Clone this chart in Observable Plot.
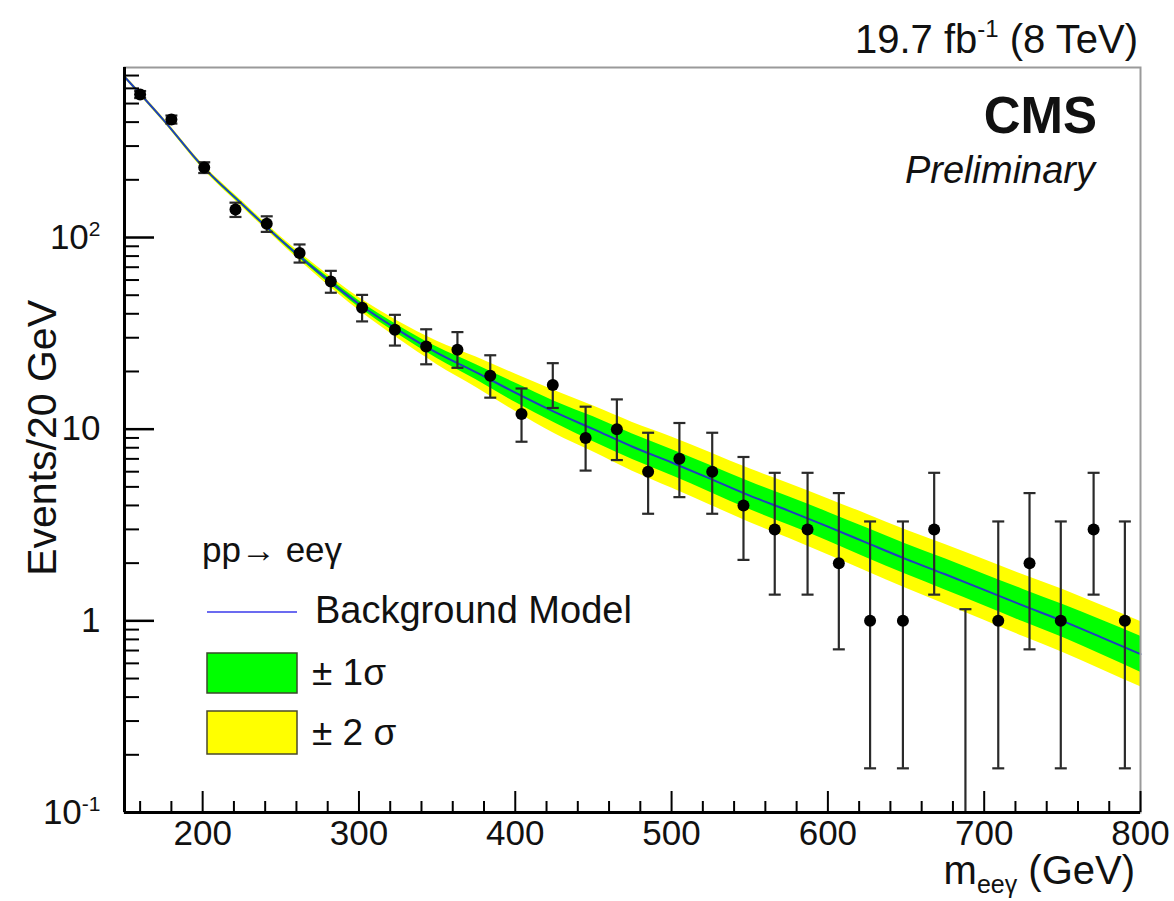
<!DOCTYPE html>
<html><head><meta charset="utf-8">
<script src="https://cdn.jsdelivr.net/npm/d3@7"></script>
<script src="https://cdn.jsdelivr.net/npm/@observablehq/plot@0.6"></script>
<style>
body{margin:0;background:#fff;}
#chart{position:relative;width:1174px;height:901px;}
svg{font-family:"Liberation Sans",Arial,Helvetica,sans-serif;}
</style></head><body><div id="chart"></div>
<script>
// ---- data ----
const binCenter = [160,180,201,221,241,262,282,302,323,343,363,384,404,424,445,465,485,505,526,546,566,587,607,627,648,668,688,709,729,749,770,790];
const counts    = [557,413,232,140,118,83,59,43,33,27,26,19,12,17,9,10,6,7,6,4,3,3,2,1,1,3,0,1,2,1,3,1];
const errLow    = [534,393,217,128,107,74,51.5,36.5,27.3,21.8,20.9,14.6,8.6,12.9,6.08,6.9,3.62,4.42,3.62,2.08,1.37,1.37,0.71,0.17,0.17,1.37,0.05,0.17,0.71,0.17,1.37,0.17];
const errHigh   = [581,433,247,152,129,92,67,50.2,39.5,33.2,32.1,24.3,16.3,22.1,13.1,14.3,9.58,10.77,9.58,7.16,5.92,5.92,4.64,3.30,3.30,5.92,1.15,3.30,4.64,3.30,5.92,3.30];

const bandMass   = [150,175,200,225,250,275,300,325,350,375,400,425,450,475,500,525,550,575,600,625,650,675,700,725,750,775,800];
const bkgModel   = [690,410,235,150,97,65,45,33,25,19.8,15.5,12.3,10.0,8.1,6.7,5.5,4.5,3.75,3.1,2.55,2.1,1.75,1.45,1.2,1.0,0.82,0.67];
const sigma1Low  = [683,405,231.5,147.3,95.1,63.1,43.3,31.3,23.4,18.1,13.8,10.8,8.6,6.95,5.73,4.68,3.81,3.16,2.61,2.13,1.75,1.45,1.20,0.988,0.820,0.667,0.540];
const sigma1High = [697,415,238.5,152.7,98.9,67.0,46.8,34.8,26.8,21.7,17.4,14.0,11.6,9.44,7.84,6.46,5.31,4.44,3.69,3.05,2.52,2.11,1.75,1.458,1.22,1.009,0.831];
const sigma2Low  = [676,400,228,144.9,93.3,61.3,41.7,29.7,21.7,16.5,12.4,9.5,7.6,6.04,4.93,4.01,3.26,2.70,2.21,1.81,1.48,1.22,1.007,0.828,0.685,0.558,0.453];
const sigma2High = [704,420,242,155.3,100.9,68.9,48.6,36.6,28.8,23.8,19.4,15.9,13.2,10.85,9.11,7.54,6.21,5.21,4.34,3.60,2.98,2.50,2.09,1.74,1.46,1.205,0.992];

const xMajorTicks = [200,300,400,500,600,700,800];
const xMinorTicks = [160,180,220,240,260,280,320,340,360,380,420,440,460,480,520,540,560,580,620,640,660,680,720,740,760,780];
const yMajorTicks = [0.1,1,10,100];
const yTickLabels = ["10^-1","1","10","10^2"];
const yMinorTicks = [0.2,0.3,0.4,0.5,0.6,0.7,0.8,0.9,2,3,4,5,6,7,8,9,20,30,40,50,60,70,80,90,200,300,400,500,600,700];

// ---- tables ----
const data = binCenter.map((m,i)=>({m, n:counts[i], lo:errLow[i], hi:errHigh[i]}));
const band = bandMass.map((m,i)=>({m, bkg:bkgModel[i], lo1:sigma1Low[i], hi1:sigma1High[i], lo2:sigma2Low[i], hi2:sigma2High[i]}));

const W=1174, H=901, mL=124, mR=34, mT=67, mB=89;
const innerW = W-mL-mR, innerH = H-mT-mB;
const capSym = {draw(ctx, size){ const w=Math.sqrt(size/Math.PI); ctx.moveTo(-w,0); ctx.lineTo(w,0); }};
const font = "Liberation Sans, Arial, Helvetica, sans-serif";

const plot = Plot.plot({
  width: W, height: H,
  marginLeft: mL, marginRight: mR, marginTop: mT, marginBottom: mB,
  style: {fontFamily: font, background: "white", overflow: "visible", color: "#111"},
  x: {domain: [150, 800]},
  y: {type: "log", domain: [0.1, 771]},
  marks: [
    Plot.areaY(band, {x:"m", y1:"lo2", y2:"hi2", fill:"#ffff00", curve:"monotone-x"}),
    Plot.areaY(band, {x:"m", y1:"lo1", y2:"hi1", fill:"#00ff00", curve:"monotone-x"}),
    Plot.line(band, {x:"m", y:"bkg", stroke:"#1f3fbf", strokeWidth:2, curve:"monotone-x"}),
    Plot.ruleX(data, {x:"m", y1:"lo", y2:"hi", stroke:"#2a2a2a", strokeWidth:2.2, clip:true}),
    Plot.dot(data, {x:"m", y:"hi", symbol:capSym, r:6, stroke:"#2a2a2a", strokeWidth:2.2}),
    Plot.dot(data.filter(d=>d.lo>0.1), {x:"m", y:"lo", symbol:capSym, r:6, stroke:"#2a2a2a", strokeWidth:2.2}),
    Plot.dot(data.filter(d=>d.n>0), {x:"m", y:"n", r:6, fill:"black", stroke:"none"}),
    Plot.frame({stroke:"#9a9a9a", strokeWidth:2}),
    Plot.ruleX(xMinorTicks, {insetTop: innerH-11, stroke:"black", strokeWidth:2}),
    Plot.ruleX(xMajorTicks, {insetTop: innerH-21, stroke:"black", strokeWidth:2}),
    Plot.ruleY(yMinorTicks, {insetRight: innerW-15, stroke:"black", strokeWidth:2}),
    Plot.ruleY(yMajorTicks, {insetRight: innerW-30, stroke:"black", strokeWidth:2.5}),
    Plot.ruleX([150], {stroke:"black", strokeWidth:3}),
    Plot.ruleY([0.1], {stroke:"black", strokeWidth:3}),
    Plot.axisX({ticks:xMajorTicks, tickSize:0, tickPadding:8, fontSize:35, label:null, tickFormat:d=>String(d)}),
    Plot.axisY({ticks:yMajorTicks, tickSize:0, tickPadding:24, fontSize:35, label:null, tickFormat:d=>yTickLabels[yMajorTicks.indexOf(d)]})
  ]
});
document.getElementById("chart").appendChild(plot);

const svg = d3.select(plot);
// superscripts on y tick labels
svg.selectAll('g[aria-label="y-axis tick label"] text').each(function(){
  const t = this.textContent;
  if (t.includes("^")) {
    const [b,e] = t.split("^");
    const s = d3.select(this); s.text(b);
    s.append("tspan").attr("dy","-0.6em").attr("font-size","0.6em").text(e);
  }
});

const g = svg.append("g").attr("font-family", font).attr("fill", "#111").attr("text-anchor","start");
// lumi label
{
  const t = g.append("text").attr("x",1138).attr("y",53).attr("text-anchor","end").attr("font-size",40);
  t.append("tspan").text("19.7 fb");
  t.append("tspan").attr("font-size",24).attr("dy",-16).text("-1");
  t.append("tspan").attr("dy",16).text(" (8 TeV)");
}
g.append("text").attr("x",1097).attr("y",133).attr("text-anchor","end").attr("font-size",51).attr("font-weight","bold").text("CMS");
g.append("text").attr("x",1095).attr("y",183).attr("text-anchor","end").attr("font-size",38).attr("font-style","italic").text("Preliminary");
// x title
{
  const t = g.append("text").attr("x",1135).attr("y",884).attr("text-anchor","end").attr("font-size",40);
  t.append("tspan").text("m");
  t.append("tspan").attr("font-size",25).attr("dy",9).text("eeγ");
  t.append("tspan").attr("dy",-9).text(" (GeV)");
}
// y title
g.append("text").attr("transform","translate(56,300) rotate(-90)").attr("text-anchor","end").attr("font-size",41).text("Events/20 GeV");
// legend
g.append("text").attr("x",202).attr("y",562).attr("font-size",35).text("pp\u2192 ee\u03b3");
g.append("line").attr("x1",207).attr("x2",297).attr("y1",612).attr("y2",612).attr("stroke","#6b6bf0").attr("stroke-width",2);
g.append("text").attr("x",315).attr("y",623).attr("font-size",38).text("Background Model");
g.append("rect").attr("x",207).attr("y",653).attr("width",90).attr("height",40).attr("fill","#00ff00").attr("stroke","#3a4a2a").attr("stroke-width",1.5);
g.append("text").attr("x",312).attr("y",685).attr("font-size",37).text("\u00b1 1\u03c3");
g.append("rect").attr("x",207).attr("y",711).attr("width",90).attr("height",43).attr("fill","#ffff00").attr("stroke","#4a4a2a").attr("stroke-width",1.5);
g.append("text").attr("x",312).attr("y",745).attr("font-size",37).text("\u00b1 2 \u03c3");
</script></body></html>
